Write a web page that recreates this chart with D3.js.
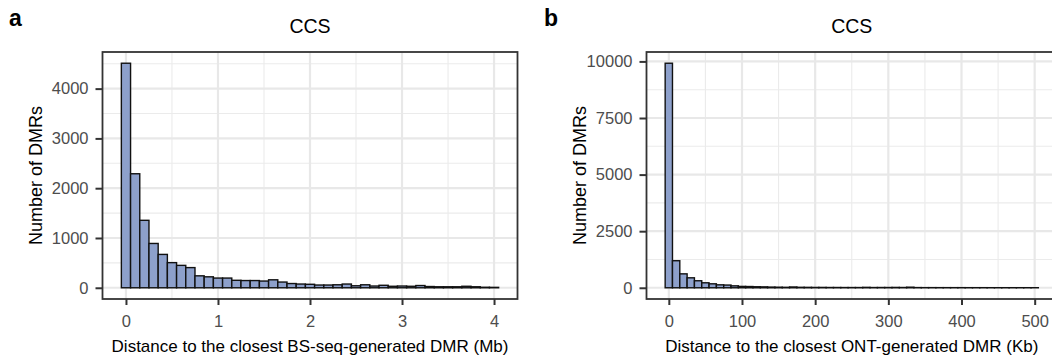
<!DOCTYPE html>
<html>
<head>
<meta charset="utf-8">
<script src="https://cdn.jsdelivr.net/npm/d3@7"></script>
<style>
  body { margin: 0; background: #fff; }
  svg { display: block; }
  text { font-family: "Liberation Sans", Arial, sans-serif; }
</style>
</head>
<body>
<svg width="1052" height="359"></svg>
<script>
// panel a: distance to closest BS-seq DMR, bins of 0.1 Mb
const binsA = [0, 0.1, 0.2, 0.3, 0.4, 0.5, 0.6, 0.7, 0.8, 0.9,
  1.0, 1.1, 1.2, 1.3, 1.4, 1.5, 1.6, 1.7, 1.8, 1.9,
  2.0, 2.1, 2.2, 2.3, 2.4, 2.5, 2.6, 2.7, 2.8, 2.9,
  3.0, 3.1, 3.2, 3.3, 3.4, 3.5, 3.6, 3.7, 3.8, 3.9, 4.0];
const countsA = [4510, 2290, 1355, 890, 670, 505, 450, 405, 240, 220,
  195, 195, 150, 145, 145, 135, 160, 115, 85, 75,
  70, 55, 55, 60, 75, 40, 60, 35, 50, 30,
  35, 30, 45, 25, 20, 20, 20, 30, 20, 10, 8];

// panel b: distance to closest ONT DMR, bins of 10 Kb
const binsB = [0, 10, 20, 30, 40, 50, 60, 70, 80, 90,
  100, 110, 120, 130, 140, 150, 160, 170, 180, 190,
  200, 210, 220, 230, 240, 250, 260, 270, 280, 290,
  300, 310, 320, 330, 340, 350, 360, 370, 380, 390,
  400, 410, 420, 430, 440, 450, 460, 470, 480, 490, 500];
const countsB = [9920, 1195, 615, 440, 310, 220, 175, 130, 120, 85,
  60, 55, 45, 40, 30, 25, 20, 35, 20, 18,
  15, 15, 12, 12, 10, 10, 10, 18, 10, 12,
  12, 15, 12, 25, 8, 6, 6, 5, 5, 5,
  5, 4, 4, 4, 3, 3, 3, 3, 3, 3, 3];

const xTicksA = [0, 1, 2, 3, 4];
const yTicksA = [0, 1000, 2000, 3000, 4000];
const xTicksB = [0, 100, 200, 300, 400, 500];
const yTicksB = [0, 2500, 5000, 7500, 10000];

const svg = d3.select("svg");

function panel(o) {
  var bw = o.bins[1] - o.bins[0],
      lo = o.bins[0] - bw / 2,
      hi = o.bins[o.bins.length - 1] + bw / 2,
      pad = (hi - lo) * 0.05,
      ymax = d3.max(o.counts);

  var x = d3.scaleLinear().domain([lo - pad, hi + pad]).range([o.left, o.right]);
  var y = d3.scaleLinear().domain([-ymax * 0.05, ymax * 1.05]).range([o.bottom, o.top]);

  var g = svg.append("g");

  // minor grid at midpoints
  var xStep = o.xTicks[1] - o.xTicks[0], yStep = o.yTicks[1] - o.yTicks[0];
  var xMinor = [], yMinor = [];
  for (var v = o.xTicks[0] - xStep / 2; v <= x.domain()[1]; v += xStep)
    if (v >= x.domain()[0]) xMinor.push(v);
  for (var w = o.yTicks[0] - yStep / 2; w <= y.domain()[1]; w += yStep)
    if (w >= y.domain()[0]) yMinor.push(w);

  g.selectAll(".xminor").data(xMinor).enter().append("line")
    .attr("x1", d => x(d)).attr("x2", d => x(d))
    .attr("y1", o.top).attr("y2", o.bottom)
    .attr("stroke", "#ebebeb").attr("stroke-width", 1.1);
  g.selectAll(".yminor").data(yMinor).enter().append("line")
    .attr("x1", o.left).attr("x2", o.right)
    .attr("y1", d => y(d)).attr("y2", d => y(d))
    .attr("stroke", "#ebebeb").attr("stroke-width", 1.1);

  g.selectAll(".xmajor").data(o.xTicks).enter().append("line")
    .attr("x1", d => x(d)).attr("x2", d => x(d))
    .attr("y1", o.top).attr("y2", o.bottom)
    .attr("stroke", "#e8e8e8").attr("stroke-width", 2.2);
  g.selectAll(".ymajor").data(o.yTicks).enter().append("line")
    .attr("x1", o.left).attr("x2", o.right)
    .attr("y1", d => y(d)).attr("y2", d => y(d))
    .attr("stroke", "#e8e8e8").attr("stroke-width", 2.2);

  // bars
  g.selectAll(".bar").data(o.bins).enter().append("rect")
    .attr("x", d => x(d - bw / 2))
    .attr("width", d => x(d + bw / 2) - x(d - bw / 2))
    .attr("y", (d, i) => y(o.counts[i]))
    .attr("height", (d, i) => y(0) - y(o.counts[i]))
    .attr("fill", "#8da0cb")
    .attr("stroke", "#111")
    .attr("stroke-width", 1.4);

  // border
  g.append("rect")
    .attr("x", o.left).attr("y", o.top)
    .attr("width", o.right - o.left).attr("height", o.bottom - o.top)
    .attr("fill", "none").attr("stroke", "#333").attr("stroke-width", 1.8);

  // axes
  var ax = g.append("g")
    .attr("transform", "translate(0," + o.bottom + ")")
    .call(d3.axisBottom(x).tickValues(o.xTicks).tickFormat(d => d).tickSize(6).tickPadding(10));
  var ay = g.append("g")
    .attr("transform", "translate(" + o.left + ",0)")
    .call(d3.axisLeft(y).tickValues(o.yTicks).tickFormat(d => d).tickSize(7).tickPadding(7));
  [ax, ay].forEach(function(a) {
    a.select(".domain").remove();
    a.selectAll(".tick line").attr("stroke", "#333").attr("stroke-width", 2);
    a.selectAll(".tick text").attr("fill", "#4d4d4d")
      .attr("font-size", 16.5).attr("font-family", "Liberation Sans, Arial, sans-serif");
  });

  // titles
  var cx = (o.left + o.right) / 2;
  g.append("text").attr("x", cx).attr("y", 33)
    .attr("text-anchor", "middle").attr("font-size", 19.5).text(o.title);
  g.append("text").attr("x", cx).attr("y", 351.5)
    .attr("text-anchor", "middle").attr("font-size", 17).text(o.xTitle);
  g.append("text")
    .attr("transform", "translate(" + o.yTitleX + "," + ((o.top + o.bottom) / 2) + ") rotate(-90)")
    .attr("text-anchor", "middle").attr("font-size", 18).text("Number of DMRs");
  g.append("text").attr("x", o.letterX).attr("y", 26)
    .attr("font-size", 23).attr("font-weight", "bold").text(o.letter);
}

panel({
  bins: binsA, counts: countsA, xTicks: xTicksA, yTicks: yTicksA,
  left: 102.5, right: 517.5, top: 52, bottom: 299,
  title: "CCS", xTitle: "Distance to the closest BS-seq-generated DMR (Mb)",
  yTitleX: 42, letter: "a", letterX: 9
});

panel({
  bins: binsB, counts: countsB, xTicks: xTicksB, yTicks: yTicksB,
  left: 646.5, right: 1057, top: 52, bottom: 299,
  title: "CCS", xTitle: "Distance to the closest ONT-generated DMR (Kb)",
  yTitleX: 586, letter: "b", letterX: 544
});
</script>
</body>
</html>
